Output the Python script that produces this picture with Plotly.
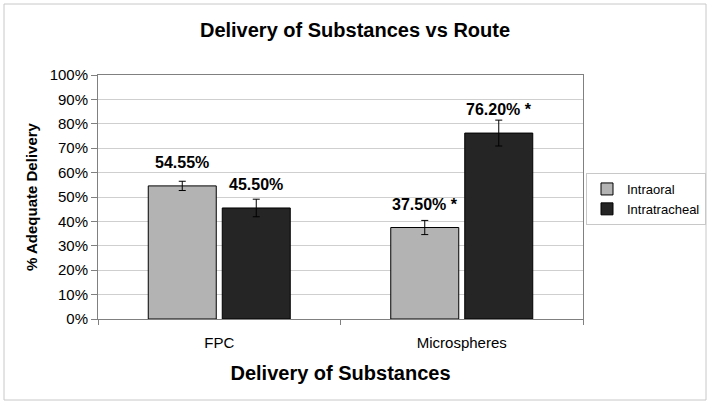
import plotly.graph_objects as go

categories = ["FPC", "Microspheres"]
series_names = ["Intraoral", "Intratracheal"]
intraoral = [54.55, 37.50]
intratracheal = [45.50, 76.20]
intraoral_err = [1.9, 2.9]
intratracheal_err = [3.6, 5.3]
intraoral_labels = ["54.55%", "37.50% *"]
intratracheal_labels = ["45.50%", "76.20% *"]
y_ticks = list(range(0, 101, 10))

FONT = "Liberation Sans, Arial, sans-serif"
W, H = 710, 404
ML, MR, MT, MB = 98, 127, 75, 85
PW, PH = W - ML - MR, H - MT - MB

fig = go.Figure()
fig.add_trace(go.Bar(
    name=series_names[0], x=categories, y=intraoral,
    marker=dict(color="#b3b3b3", line=dict(color="#000000", width=1)),
    error_y=dict(type="data", array=intraoral_err, color="#000000", thickness=1, width=3.5),
))
fig.add_trace(go.Bar(
    name=series_names[1], x=categories, y=intratracheal,
    marker=dict(color="#252525", line=dict(color="#000000", width=1)),
    error_y=dict(type="data", array=intratracheal_err, color="#000000", thickness=1, width=3.5),
))

# bar geometry: category width PW/2, slot = 74 px, bar 68 px
cat_w = PW / 2
slot = 74.0
bargroupgap = 6.0 / slot
bargap = 1 - 2 * slot / cat_w
offset = slot / 2

annotations = []
for cat, v, lab in zip(categories, intraoral, intraoral_labels):
    annotations.append(dict(x=cat, y=v, text="<b>%s</b>" % lab, showarrow=False,
                            xref="x", yref="y", xshift=-offset, yshift=13, yanchor="bottom",
                            font=dict(family=FONT, size=16, color="#000000")))
for cat, v, lab in zip(categories, intratracheal, intratracheal_labels):
    annotations.append(dict(x=cat, y=v, text="<b>%s</b>" % lab, showarrow=False,
                            xref="x", yref="y", xshift=offset, yshift=13, yanchor="bottom",
                            font=dict(family=FONT, size=16, color="#000000")))

def px_to_paper_x(px):
    return (px - ML) / PW

def px_to_paper_y(py):
    return (H - MB - py) / PH

fig.update_layout(
    width=W, height=H, autosize=False,
    margin=dict(l=ML, r=MR, t=MT, b=MB, autoexpand=False),
    paper_bgcolor="#ffffff", plot_bgcolor="#ffffff",
    font=dict(family=FONT, size=15, color="#000000"),
    title=dict(text="<b>Delivery of Substances vs Route</b>", x=0.5, xanchor="center",
               y=(H - 30) / H, yanchor="middle", font=dict(family=FONT, size=20)),
    barmode="group", bargap=bargap, bargroupgap=bargroupgap,
    xaxis=dict(
        title=dict(text="<b>Delivery of Substances</b>", font=dict(family=FONT, size=20), standoff=15),
        showline=True, linecolor="#808080", linewidth=1, mirror=True,
        ticks="outside", tickson="boundaries", ticklen=5, tickcolor="#808080",
        tickfont=dict(size=15), showgrid=False, ticklabelstandoff=10,
    ),
    yaxis=dict(
        title=dict(text="<b>% Adequate Delivery</b>", font=dict(family=FONT, size=15), standoff=8),
        range=[0, 100], tickvals=y_ticks, ticktext=["%d%%" % t for t in y_ticks],
        showline=True, linecolor="#808080", linewidth=1, mirror=True,
        ticks="outside", ticklen=6, tickcolor="#808080",
        showgrid=True, gridcolor="#cfcfcf", gridwidth=1, zeroline=False,
        tickfont=dict(size=15),
    ),
    legend=dict(
        x=px_to_paper_x(586), y=px_to_paper_y(173), xanchor="left", yanchor="top",
        bordercolor="#c8c8c8", borderwidth=1, bgcolor="#ffffff",
        font=dict(family=FONT, size=13),
    ),
    annotations=annotations,
    shapes=[dict(type="rect", xref="paper", yref="paper",
                 x0=px_to_paper_x(4), x1=px_to_paper_x(706),
                 y0=px_to_paper_y(400), y1=px_to_paper_y(4),
                 line=dict(color="#c8c8c8", width=1), fillcolor="rgba(0,0,0,0)", layer="below")],
)

fig.write_html(
    "out.html",
    config={"displayModeBar": False, "responsive": False},
    post_script="document.body.style.margin='0';document.body.style.overflow='hidden';",
)
